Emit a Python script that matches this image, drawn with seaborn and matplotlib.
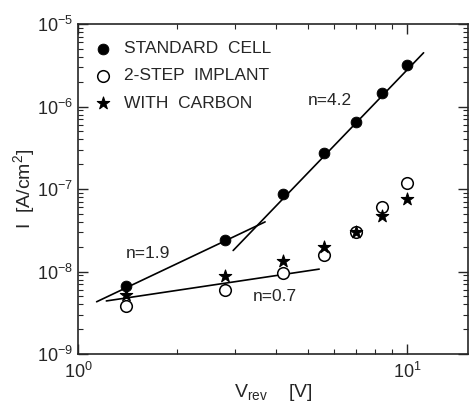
import numpy as np
import pandas as pd
import matplotlib
matplotlib.use("Agg")
import matplotlib.pyplot as plt
import matplotlib.ticker as mticker
import seaborn as sns

# reverse bias values [V]
v_rev = [1.4, 2.8, 4.2, 5.6, 7.0, 8.4, 10.0]

# current density [A/cm^2]
i_standard = [6.6e-9, 2.4e-8, 8.6e-8, 2.75e-7, 6.6e-7, 1.45e-6, 3.2e-6]
i_2step = [3.8e-9, 6.0e-9, 9.5e-9, 1.6e-8, 3.0e-8, 6.0e-8, 1.17e-7]
i_carbon = [5.2e-9, 8.8e-9, 1.35e-8, 2.0e-8, 3.0e-8, 4.7e-8, 7.6e-8]

# fitted power-law lines (end points)
fit_n42_x = [2.96, 11.2]
fit_n42_y = [1.8e-8, 4.5e-6]
fit_n19_x = [1.14, 3.7]
fit_n19_y = [4.3e-9, 4.0e-8]
fit_n07_x = [1.22, 5.4]
fit_n07_y = [4.4e-9, 1.07e-8]

sns.set_style("ticks")
plt.rcParams['font.family'] = ['Liberation Sans', 'DejaVu Sans']
plt.rcParams['mathtext.fontset'] = 'custom'
plt.rcParams['mathtext.rm'] = 'Liberation Sans'
plt.rcParams['mathtext.it'] = 'Liberation Sans'

fig = plt.figure(figsize=(4.72, 4.03), dpi=100)
ax = fig.add_axes([0.165, 0.1216, 0.827, 0.8184])

for fx, fy in [(fit_n42_x, fit_n42_y), (fit_n19_x, fit_n19_y), (fit_n07_x, fit_n07_y)]:
    sns.lineplot(x=fx, y=fy, color='black', lw=1.2, ax=ax, estimator=None, sort=False)

sns.scatterplot(x=v_rev, y=i_standard, marker='o', s=60, color='black',
                edgecolor='black', label='STANDARD  CELL', ax=ax, zorder=3)
sns.scatterplot(x=v_rev, y=i_2step, marker='o', s=70, facecolor='white',
                edgecolor='black', linewidth=1.1, label='2-STEP  IMPLANT', ax=ax, zorder=3)
sns.scatterplot(x=v_rev, y=i_carbon, marker='*', s=90, color='black',
                edgecolor='black', label='WITH  CARBON', ax=ax, zorder=4)

ax.set_xscale('log')
ax.set_yscale('log')
ax.set_xlim(1, 15.3)
ax.set_ylim(1e-9, 1e-5)
ax.xaxis.set_minor_formatter(mticker.NullFormatter())
ax.yaxis.set_minor_formatter(mticker.NullFormatter())

ax.text(4.97, 1.2e-6, 'n=4.2', fontsize=12.5, va='center')
ax.text(1.40, 1.65e-8, 'n=1.9', fontsize=12.5, va='center')
ax.text(3.40, 5.0e-9, 'n=0.7', fontsize=12.5, va='center')

ax.tick_params(which='both', direction='in', top=True, right=True, labelsize=13)
ax.tick_params(which='major', length=7, width=1)
ax.tick_params(which='minor', length=3.5, width=0.8)
ax.tick_params(axis='x', pad=6)
for sp in ax.spines.values():
    sp.set_linewidth(1.2)

ax.set_xlabel(r'$\mathrm{V_{rev}}$    [V]', fontsize=14, labelpad=0)
ax.set_ylabel(r'I  [A/cm$^2$]', fontsize=14, labelpad=0)

leg = ax.legend(loc='upper left', bbox_to_anchor=(0.025, 0.97), frameon=False,
                fontsize=12.5, handletextpad=0.7, borderaxespad=0,
                labelspacing=0.7, handlelength=1.0)

fig.savefig('out.png', dpi=100)
